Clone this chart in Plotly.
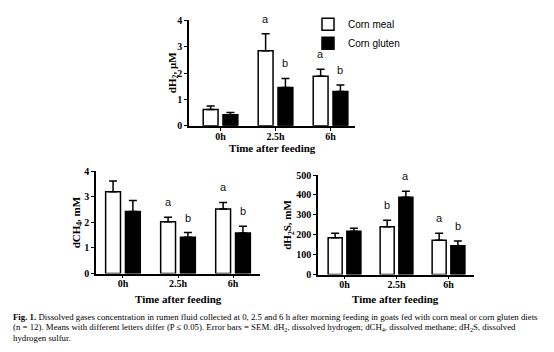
import plotly.graph_objects as go

times = ["0h", "2.5h", "6h"]
xpos = [0, 1, 2]

# dH2, uM
h2_meal = [0.62, 2.85, 1.88]
h2_meal_err = [0.13, 0.65, 0.27]
h2_gluten = [0.42, 1.45, 1.30]
h2_gluten_err = [0.08, 0.35, 0.25]
h2_letters_meal = ["", "a", "a"]
h2_letters_gluten = ["", "b", "b"]

# dCH4, mM
ch4_meal = [3.20, 2.02, 2.52]
ch4_meal_err = [0.42, 0.18, 0.26]
ch4_gluten = [2.42, 1.42, 1.58]
ch4_gluten_err = [0.43, 0.18, 0.27]
ch4_letters_meal = ["", "a", "a"]
ch4_letters_gluten = ["", "b", "b"]

# dH2S, mM
h2s_meal = [185, 240, 172]
h2s_meal_err = [22, 33, 36]
h2s_gluten = [218, 388, 145]
h2s_gluten_err = [14, 30, 23]
h2s_letters_meal = ["", "b", "a"]
h2s_letters_gluten = ["", "a", "b"]

W, H = 554, 352
def px(x):
    return x / W
def py(y):
    return 1 - y / H

SERIF = "Liberation Serif"
SANS = "Liberation Sans"
BAR_W = 0.27
OFF_MEAL = -0.315
OFF_GLUTEN = 0.045

panels = [
    dict(meal=h2_meal, me=h2_meal_err, glu=h2_gluten, ge=h2_gluten_err,
         lm=h2_letters_meal, lg=h2_letters_gluten,
         xd=[px(189), px(355)], yd=[py(124), py(15)], xr=[-0.573, 2.445], yr=[0, 4], dt=1,
         title="dH<sub>2</sub>, μM", tx=px(173), xt=py(147)),
    dict(meal=ch4_meal, me=ch4_meal_err, glu=ch4_gluten, ge=ch4_gluten_err,
         lm=ch4_letters_meal, lg=ch4_letters_gluten,
         xd=[px(96), px(260)], yd=[py(277), py(171)], xr=[-0.49, 2.49], yr=[0, 4], dt=1,
         title="dCH<sub>4</sub>, mM", tx=px(77), xt=py(303)),
    dict(meal=h2s_meal, me=h2s_meal_err, glu=h2s_gluten, ge=h2s_gluten_err,
         lm=h2s_letters_meal, lg=h2s_letters_gluten,
         xd=[px(318), px(474)], yd=[py(278), py(175)], xr=[-0.51, 2.49], yr=[0, 500], dt=100,
         title="dH<sub>2</sub>S, mM", tx=px(288), xt=py(303)),
]

fig = go.Figure()
annotations = []
layout_axes = {}
for i, p in enumerate(panels):
    n = "" if i == 0 else str(i + 1)
    xa, ya = "x" + n, "y" + n
    fig.add_trace(go.Bar(
        x=xpos, y=p["meal"], xaxis=xa, yaxis=ya, name="Corn meal",
        width=BAR_W, offset=OFF_MEAL, showlegend=(i == 0), legendgroup="m",
        marker=dict(color="white", line=dict(color="black", width=1.5)),
        error_y=dict(type="data", array=p["me"], arrayminus=[0, 0, 0], symmetric=False,
                     color="black", thickness=1.5, width=4),
    ))
    fig.add_trace(go.Bar(
        x=xpos, y=p["glu"], xaxis=xa, yaxis=ya, name="Corn gluten",
        width=BAR_W, offset=OFF_GLUTEN, showlegend=(i == 0), legendgroup="g",
        marker=dict(color="black", line=dict(color="black", width=1.5)),
        error_y=dict(type="data", array=p["ge"], arrayminus=[0, 0, 0], symmetric=False,
                     color="black", thickness=1.5, width=4),
    ))
    layout_axes["xaxis" + n] = dict(
        domain=p["xd"], range=p["xr"], anchor=ya, tickvals=xpos, ticktext=times,
        showline=True, linecolor="black", linewidth=1.5, ticks="outside", ticklen=3,
        tickwidth=1.2, tickcolor="black", showgrid=False, zeroline=False,
        ticklabelstandoff=-3,
        tickfont=dict(family=SERIF, size=10, color="black", weight="bold"),
    )
    layout_axes["yaxis" + n] = dict(
        domain=p["yd"], range=p["yr"], anchor=xa, dtick=p["dt"],
        showline=True, linecolor="black", linewidth=1.5, ticks="outside", ticklen=3,
        tickwidth=1.2, tickcolor="black", showgrid=False, zeroline=False,
        tickfont=dict(family=SERIF, size=10, color="black", weight="bold"),
    )
    annotations.append(dict(
        xref="paper", yref="paper", x=p["tx"], y=sum(p["yd"]) / 2, text=p["title"],
        textangle=-90, showarrow=False, xanchor="center", yanchor="middle",
        font=dict(family=SERIF, size=11, color="black", weight="bold"),
    ))
    annotations.append(dict(
        xref="paper", yref="paper", x=sum(p["xd"]) / 2, y=p["xt"], text="Time after feeding",
        showarrow=False, xanchor="center", yanchor="middle",
        font=dict(family=SERIF, size=11, color="black", weight="bold"),
    ))
    for j in range(3):
        for lab, val, err, off in ((p["lm"][j], p["meal"][j], p["me"][j], OFF_MEAL),
                                   (p["lg"][j], p["glu"][j], p["ge"][j], OFF_GLUTEN)):
            if lab:
                annotations.append(dict(
                    xref=xa, yref=ya, x=xpos[j] + off + BAR_W / 2, y=val + err, text=lab,
                    showarrow=False, xanchor="center", yanchor="bottom", yshift=7,
                    font=dict(family=SANS, size=11, color="#111111"),
                ))

caption = [
    "<b>Fig. 1.</b> Dissolved gases concentration in rumen fluid collected at 0, 2.5 and 6 h after morning feeding in goats fed with corn meal or corn gluten diets",
    "(n = 12). Means with different letters differ (P ≤ 0.05). Error bars = SEM. dH<sub>2</sub>, dissolved hydrogen; dCH<sub>4</sub>, dissolved methane; dH<sub>2</sub>S, dissolved",
    "hydrogen sulfur.",
]
for k, line in enumerate(caption):
    annotations.append(dict(
        xref="paper", yref="paper", x=px(11), y=py(322 + 11 * k), text=line,
        showarrow=False, xanchor="left", yanchor="middle",
        font=dict(family=SERIF, size=8.8, color="black"),
    ))

fig.update_layout(
    width=W, height=H, margin=dict(l=0, r=0, t=0, b=0),
    paper_bgcolor="white", plot_bgcolor="white",
    barmode="overlay",
    showlegend=True,
    legend=dict(x=px(308), y=py(4), xanchor="left", yanchor="top",
                font=dict(family=SANS, size=10, color="black"),
                bgcolor="rgba(0,0,0,0)", tracegroupgap=0, itemwidth=30),
    annotations=annotations,
    **layout_axes,
)

fig.write_html("out.html")
